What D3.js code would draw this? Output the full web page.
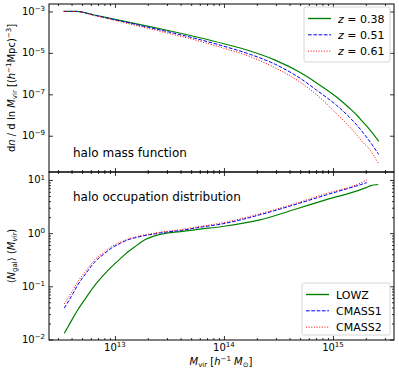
<!DOCTYPE html>
<html>
<head>
<meta charset="utf-8">
<script src="https://cdn.jsdelivr.net/npm/d3@7"></script>
<style>
body { margin: 0; background: #fff; }
svg { font-family: "DejaVu Sans", sans-serif; }
</style>
</head>
<body>
<div id="chart"></div>
<script>
// log10 values

// halo mass function panel
let hmfMass  = [12.53, 12.65, 12.80, 13.00, 13.32, 13.55, 13.78, 14.00, 14.24, 14.47, 14.70, 14.85, 15.03, 15.15, 15.22, 15.28, 15.32, 15.42];
let hmfZ038  = [-3.00, -3.00, -3.16, -3.38, -3.73, -3.99, -4.27, -4.56, -4.91, -5.35, -5.95, -6.45, -7.12, -7.66, -8.01, -8.37, -8.60, -9.27];
let hmfZ051  = [-3.00, -3.00, -3.17, -3.40, -3.78, -4.06, -4.36, -4.68, -5.07, -5.55, -6.23, -6.80, -7.52, -8.10, -8.49, -8.88, -9.15, -9.90];
let hmfZ061  = [-3.00, -3.00, -3.18, -3.43, -3.84, -4.13, -4.44, -4.78, -5.18, -5.72, -6.42, -7.02, -7.92, -8.55, -8.97, -9.35, -9.55, -10.37];
let hmfNames = ["0.38", "0.51", "0.61"];

// halo occupation panel
let hodMass   = [12.535, 12.60, 12.66, 12.74, 12.82, 12.90, 12.97, 13.05, 13.12, 13.20, 13.275, 13.35, 13.44, 13.60, 13.78, 14.00, 14.33, 14.64, 14.94, 15.25, 15.31, 15.34, 15.415];
let hodLowz   = [-1.885, -1.65, -1.44, -1.20, -0.97, -0.78, -0.63, -0.48, -0.35, -0.23, -0.125, -0.06, -0.013, 0.03, 0.075, 0.13, 0.25, 0.44, 0.63, 0.815, 0.86, 0.89, 0.915];
let hodCmass1 = [-1.41, -1.19, -0.97, -0.74, -0.53, -0.39, -0.28, -0.19, -0.125, -0.08, -0.045, -0.02, 0.012, 0.05, 0.11, 0.18, 0.345, 0.53, 0.72, 0.91, 0.95, null, null];
let hodCmass2 = [-1.33, -1.12, -0.91, -0.69, -0.49, -0.36, -0.25, -0.17, -0.11, -0.065, -0.03, -0.005, 0.025, 0.065, 0.125, 0.20, 0.365, 0.55, 0.745, 0.94, 1.00, null, null];
let hodNames  = ["LOWZ", "CMASS1", "CMASS2"];

let xMajor = [1e13, 1e14, 1e15];
let hmfMajor = [1e-3, 1e-5, 1e-7, 1e-9];
let hodMajor = [1e-2, 1e-1, 1e0, 1e1];

let colors = ["#008000", "blue", "red"];
let dashes = [null, "3.7,1.6", "1,1.65"];

let svgWidth = 399;
let svgHeight = 374;
let margin = { top: 4, right: 5, bottom: 34, left: 49 };
let width = svgWidth - margin.left - margin.right;
let panelH = 168;

let svg = d3.select("#chart").append("svg")
    .attr("width", svgWidth)
    .attr("height", svgHeight);

let x = d3.scaleLog().domain([Math.pow(10, 12.395), Math.pow(10, 15.56)]).range([0, width]);
let yTop = d3.scaleLog().domain([Math.pow(10, -10.75), Math.pow(10, -2.64)]).range([panelH, 0]);
let yBot = d3.scaleLog().domain([Math.pow(10, -2.01), Math.pow(10, 1.15)]).range([panelH, 0]);

function minorTicks(scale) {
    let d = scale.domain();
    let out = [];
    for (let e = Math.floor(Math.log10(d[0])); e <= Math.ceil(Math.log10(d[1])); e++) {
        for (let k = 2; k <= 9; k++) {
            let v = k * Math.pow(10, e);
            if (v >= d[0] && v <= d[1]) out.push(v);
        }
    }
    return out;
}

// text with italic / sub / sup pieces
function richText(sel, parts, fs) {
    let cur = 0;
    parts.forEach(p => {
        let t = p[0], k = p[1] || "";
        let target = k.indexOf("sup") >= 0 ? -0.38 * fs : (k.indexOf("sub") >= 0 ? 0.22 * fs : 0);
        let ts = sel.append("tspan").attr("dy", target - cur).text(t);
        cur = target;
        if (target !== 0) ts.attr("font-size", fs * 0.7);
        if (k.indexOf("it") >= 0) ts.attr("font-style", "italic");
    });
}

function tickLabel(v) {
    let e = Math.round(Math.log10(v));
    return [["10"], [String(e).replace("-", "\u2212"), "sup"]];
}

function drawPanel(top, y, yMajor, yMinor) {
    let g = svg.append("g").attr("transform", `translate(${margin.left}, ${top})`);

    let axes = [
        [d3.axisBottom, `translate(0, ${panelH})`, x, xMajor, minorTicks(x)],
        [d3.axisTop, "translate(0, 0)", x, xMajor, minorTicks(x)],
        [d3.axisLeft, "translate(0, 0)", y, yMajor, yMinor],
        [d3.axisRight, `translate(${width}, 0)`, y, yMajor, yMinor]
    ];
    axes.forEach(a => {
        let major = g.append("g").attr("transform", a[1])
            .call(a[0](a[2]).tickValues(a[3]).tickSize(-4).tickFormat(""));
        major.select(".domain").remove();
        let minor = g.append("g").attr("transform", a[1])
            .call(a[0](a[2]).tickValues(a[4]).tickSize(-2).tickFormat(""));
        minor.select(".domain").remove();
    });
    g.selectAll(".tick line").attr("stroke", "#000").attr("stroke-width", 0.8);

    yMajor.forEach(v => {
        let t = g.append("text")
            .attr("x", -4)
            .attr("y", y(v) + 3.5)
            .attr("text-anchor", "end")
            .attr("font-size", 10);
        richText(t, tickLabel(v), 10);
    });
    return g;
}

let gTop = drawPanel(margin.top, yTop, hmfMajor, []);
let gBot = drawPanel(margin.top + panelH, yBot, hodMajor, minorTicks(yBot));

// x tick labels under the lower panel
xMajor.forEach(v => {
    let t = gBot.append("text")
        .attr("x", x(v))
        .attr("y", panelH + 11)
        .attr("text-anchor", "middle")
        .attr("font-size", 10);
    richText(t, tickLabel(v), 10);
});

let line = d3.line()
    .defined(d => d[1] !== null)
    .x(d => x(Math.pow(10, d[0])))
    .curve(d3.curveMonotoneX);

[hmfZ038, hmfZ051, hmfZ061].forEach((s, i) => {
    gTop.append("path")
        .datum(hmfMass.map((m, j) => [m, s[j]]))
        .attr("fill", "none")
        .attr("stroke", colors[i])
        .attr("stroke-width", i === 0 ? 1.2 : 1)
        .attr("stroke-dasharray", dashes[i])
        .attr("d", line.y(d => yTop(Math.pow(10, d[1]))));
});

[hodLowz, hodCmass1, hodCmass2].forEach((s, i) => {
    gBot.append("path")
        .datum(hodMass.map((m, j) => [m, s[j]]))
        .attr("fill", "none")
        .attr("stroke", colors[i])
        .attr("stroke-width", i === 0 ? 1.2 : 1)
        .attr("stroke-dasharray", dashes[i])
        .attr("d", line.y(d => yBot(Math.pow(10, d[1]))));
});

// frames
[gTop, gBot].forEach(g => {
    g.append("rect")
        .attr("width", width)
        .attr("height", panelH)
        .attr("fill", "none")
        .attr("stroke", "#000")
        .attr("stroke-width", 1);
});

// panel titles
gTop.append("text").attr("x", 24).attr("y", 153)
    .attr("font-size", 12).text("halo mass function");
gBot.append("text").attr("x", 24).attr("y", 29)
    .attr("font-size", 12).text("halo occupation distribution");

// legends
function legend(g, x0, y0, w, h, labels, italicZ) {
    let lg = g.append("g").attr("transform", `translate(${x0}, ${y0})`);
    lg.append("rect")
        .attr("width", w).attr("height", h)
        .attr("rx", 2)
        .attr("fill", "#fff").attr("fill-opacity", 0.8)
        .attr("stroke", "#ccc").attr("stroke-width", 0.8);
    labels.forEach((lab, i) => {
        let yy = 11.5 + i * 16.3;
        lg.append("line")
            .attr("x1", 4).attr("x2", 27)
            .attr("y1", yy).attr("y2", yy)
            .attr("stroke", colors[i])
            .attr("stroke-width", i === 0 ? 1.4 : 1)
            .attr("stroke-dasharray", dashes[i]);
        let t = lg.append("text")
            .attr("x", 34).attr("y", yy + 4)
            .attr("font-size", 11);
        if (italicZ) richText(t, [["z", "it"], [" = " + lab]], 11);
        else t.text(lab);
    });
}
legend(gTop, 255, 3, 86, 55, hmfNames, true);
legend(gBot, 253, 111, 88, 52, hodNames, false);

// axis titles
let yl1 = svg.append("text")
    .attr("transform", `translate(15, ${margin.top + panelH / 2}) rotate(-90)`)
    .attr("text-anchor", "middle")
    .attr("font-size", 10);
richText(yl1, [["d"], ["n", "it"], [" / d ln "], ["M", "it"], ["vir", "sub"], [" [("], ["h", "it"], ["\u22121", "sup"], ["Mpc)"], ["\u22123", "sup"], ["]"]], 10);

let yl2 = svg.append("text")
    .attr("transform", `translate(15, ${margin.top + panelH * 1.5}) rotate(-90)`)
    .attr("text-anchor", "middle")
    .attr("font-size", 10);
richText(yl2, [["\u27e8"], ["N", "it"], ["gal", "sub"], ["\u27e9 ("], ["M", "it"], ["vir", "sub it"], [")"]], 10);

let xl = svg.append("text")
    .attr("x", 221)
    .attr("y", 365)
    .attr("text-anchor", "middle")
    .attr("font-size", 10);
richText(xl, [["M", "it"], ["vir", "sub"], [" [" ], ["h", "it"], ["\u22121", "sup"], [" "], ["M", "it"], ["\u2299", "sub"], ["]"]], 10);
</script>
</body>
</html>
